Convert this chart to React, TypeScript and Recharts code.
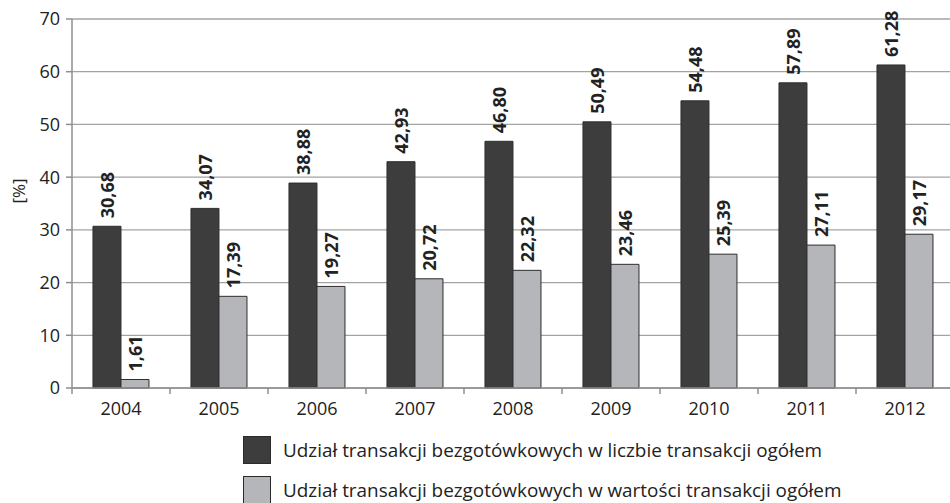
import React from 'react';
import { BarChart, Bar, XAxis, YAxis, CartesianGrid, Legend, LabelList } from 'recharts';

const years = ['2004', '2005', '2006', '2007', '2008', '2009', '2010', '2011', '2012'];
const countShare = [30.68, 34.07, 38.88, 42.93, 46.8, 50.49, 54.48, 57.89, 61.28];
const valueShare = [1.61, 17.39, 19.27, 20.72, 22.32, 23.46, 25.39, 27.11, 29.17];
const yTicks = [0, 10, 20, 30, 40, 50, 60, 70];
const seriesNames = [
  'Udział transakcji bezgotówkowych w liczbie transakcji ogółem',
  'Udział transakcji bezgotówkowych w wartości transakcji ogółem',
];

const DARK = '#3d3d3d';
const LIGHT = '#b5b6ba';
const GRID = '#a3a3a3';
const AXIS = '#8f8f8f';
const TEXT = '#222222';
const FONT = "'Open Sans', sans-serif";

const data = years.map((year, i) => ({ year, count: countShare[i], value: valueShare[i] }));

const fmt = (v: number) => v.toFixed(2).replace('.', ',');

const renderLabel = (props: any) => {
  const { x, y, width, value } = props;
  const cx = Number(x) + Number(width) / 2;
  const ty = Number(y) - 8;
  return (
    <text
      x={cx}
      y={ty}
      transform={`rotate(-90 ${cx} ${ty})`}
      textAnchor="start"
      dominantBaseline="central"
      fontWeight="bold"
      fontSize={18}
      fill={TEXT}
      fontFamily={FONT}
    >
      {fmt(Number(value))}
    </text>
  );
};

const XTick = (props: any) => {
  const { x, y, payload, index, width, visibleTicksCount } = props;
  const count = visibleTicksCount || years.length;
  const band = (width || 882) / count;
  const axisY = y - 14;
  return (
    <g>
      <line x1={x - band / 2} x2={x - band / 2} y1={axisY} y2={axisY + 6} stroke={AXIS} strokeWidth={1.5} />
      {index === count - 1 && (
        <line x1={x + band / 2} x2={x + band / 2} y1={axisY} y2={axisY + 6} stroke={AXIS} strokeWidth={1.5} />
      )}
      <text x={x} y={y} dy="0.71em" textAnchor="middle" fontSize={18} fill={TEXT} fontFamily={FONT}>
        {payload.value}
      </text>
    </g>
  );
};

const LegendContent = () => (
  <div style={{ position: 'relative', height: 85, width: '100%', fontFamily: FONT }}>
    {seriesNames.map((name, i) => (
      <div
        key={name}
        style={{
          position: 'absolute',
          left: 243,
          top: 18 + i * 40,
          display: 'flex',
          alignItems: 'center',
          height: 28,
        }}
      >
        <div
          style={{
            width: 26,
            height: 26,
            background: i === 0 ? DARK : LIGHT,
            border: '1.5px solid #2a2a2a',
            marginRight: 12,
          }}
        />
        <span style={{ fontSize: 18.9, lineHeight: '22px', color: TEXT, whiteSpace: 'nowrap' }}>{name}</span>
      </div>
    ))}
  </div>
);

export default function App() {
  return (
    <div style={{ position: 'absolute', left: 0, top: 0, width: 950, height: 503, overflow: 'hidden', background: '#fff', fontFamily: FONT }}>
      <BarChart
        width={950}
        height={503}
        data={data}
        margin={{ top: 19, right: -4, left: 0, bottom: 0 }}
        barCategoryGap="21.4%"
        barGap={0}
      >
        <CartesianGrid vertical={false} stroke={GRID} strokeWidth={1.3} />
        <XAxis
          dataKey="year"
          height={30}
          axisLine={{ stroke: AXIS, strokeWidth: 1.5 }}
          tickLine={false}
          tickSize={6}
          tickMargin={8}
          tick={<XTick />}
          interval={0}
        />
        <YAxis
          width={72}
          domain={[0, 70]}
          ticks={yTicks}
          interval={0}
          axisLine={{ stroke: AXIS, strokeWidth: 1.5 }}
          tickLine={{ stroke: AXIS, strokeWidth: 1.5 }}
          tickSize={6}
          tickMargin={6}
          tick={{ fontSize: 18, fill: TEXT, fontFamily: FONT }}
          label={{
            content: () => (
              <text
                x={18}
                y={191}
                transform="rotate(-90 18 191)"
                textAnchor="middle"
                dominantBaseline="central"
                fontSize={17}
                fill={TEXT}
                fontFamily={FONT}
              >
                [%]
              </text>
            ),
          }}
        />
        <Legend verticalAlign="bottom" height={85} content={<LegendContent />} />
        <Bar dataKey="count" name={seriesNames[0]} fill={DARK} stroke="#2e2e2e" strokeWidth={1} isAnimationActive={false}>
          <LabelList dataKey="count" content={renderLabel} />
        </Bar>
        <Bar dataKey="value" name={seriesNames[1]} fill={LIGHT} stroke="#2e2e2e" strokeWidth={1} isAnimationActive={false}>
          <LabelList dataKey="value" content={renderLabel} />
        </Bar>
      </BarChart>
    </div>
  );
}
